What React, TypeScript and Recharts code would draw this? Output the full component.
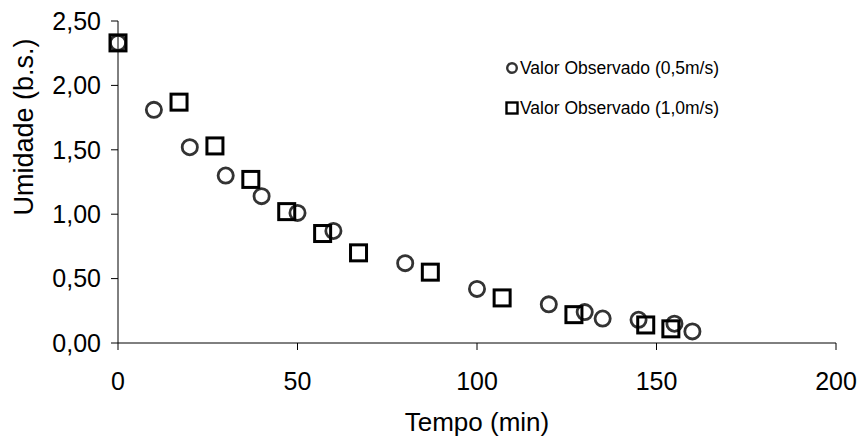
import { Label, Legend, Scatter, ScatterChart, XAxis, YAxis } from "recharts";

// tempo (min) x umidade (b.s.)
const tempo05 = [0, 10, 20, 30, 40, 50, 60, 80, 100, 120, 130, 135, 145, 155, 160];
const umidade05 = [2.33, 1.81, 1.52, 1.3, 1.14, 1.01, 0.87, 0.62, 0.42, 0.3, 0.24, 0.19, 0.18, 0.15, 0.09];
const tempo10 = [0, 17, 27, 37, 47, 57, 67, 87, 107, 127, 147, 154];
const umidade10 = [2.33, 1.87, 1.53, 1.27, 1.02, 0.85, 0.7, 0.55, 0.35, 0.22, 0.14, 0.11];

const xTicks = [0, 50, 100, 150, 200];
const yTicks = [0, 0.5, 1, 1.5, 2, 2.5];
const nomes = ["Valor Observado (0,5m/s)", "Valor Observado (1,0m/s)"];

const serie05 = tempo05.map((t, i) => ({ tempo: t, umidade: umidade05[i] }));
const serie10 = tempo10.map((t, i) => ({ tempo: t, umidade: umidade10[i] }));

const fonte = "'Liberation Sans', Arial, sans-serif";

function Circulo(props: any) {
  const { cx, cy } = props;
  return <circle cx={cx} cy={cy} r={7.6} fill="none" stroke="#333" strokeWidth={2.8} />;
}

function Quadrado(props: any) {
  const { cx, cy } = props;
  return <rect x={cx - 8} y={cy - 8} width={16} height={16} fill="none" stroke="#000" strokeWidth={3} />;
}

function Legenda() {
  return (
    <div style={{ fontFamily: fonte, fontSize: 17.5, color: "#000" }}>
      {nomes.map((nome, i) => (
        <div key={nome} style={{ display: "flex", alignItems: "center", height: 40 }}>
          <svg width={14} height={14} style={{ marginRight: 1 }}>
            {i === 0 ? (
              <circle cx={7} cy={7} r={4.8} fill="none" stroke="#333" strokeWidth={2.4} />
            ) : (
              <rect x={1.5} y={1.5} width={11} height={11} fill="none" stroke="#000" strokeWidth={2.4} />
            )}
          </svg>
          <span>{nome}</span>
        </div>
      ))}
    </div>
  );
}

export default function App() {
  const tick = { fontSize: 25, fill: "#000", fontFamily: fonte };
  return (
    <div style={{ position: "absolute", left: 0, top: 0 }}>
      <ScatterChart width={866} height={439} margin={{ top: 21, right: 30, left: 0, bottom: 0 }}>
        <XAxis
          type="number"
          dataKey="tempo"
          domain={[0, 200]}
          ticks={xTicks}
          height={96}
          tick={tick}
          tickSize={7}
          tickMargin={22}
          stroke="#000"
        >
          <Label
            value="Tempo (min)"
            position="insideBottom"
            offset={8}
            style={{ fontSize: 26, fill: "#000", fontFamily: fonte }}
          />
        </XAxis>
        <YAxis
          type="number"
          dataKey="umidade"
          domain={[0, 2.5]}
          ticks={yTicks}
          width={118}
          tick={tick}
          tickSize={7}
          tickMargin={10}
          stroke="#000"
          tickFormatter={(v: number) => v.toFixed(2).replace(".", ",")}
        >
          <Label
            content={() => (
              <text
                x={33}
                y={127}
                transform="rotate(-90 33 127)"
                textAnchor="middle"
                fontSize={27}
                fill="#000"
                fontFamily={fonte}
              >
                Umidade (b.s.)
              </text>
            )}
          />
        </YAxis>
        <Legend
          layout="horizontal"
          verticalAlign="middle"
          align="center"
          content={() => <Legenda />}
          wrapperStyle={{ top: 48, left: 505, width: 330 }}
        />
        <Scatter data={serie05} shape={Circulo} isAnimationActive={false} />
        <Scatter data={serie10} shape={Quadrado} isAnimationActive={false} />
      </ScatterChart>
    </div>
  );
}
